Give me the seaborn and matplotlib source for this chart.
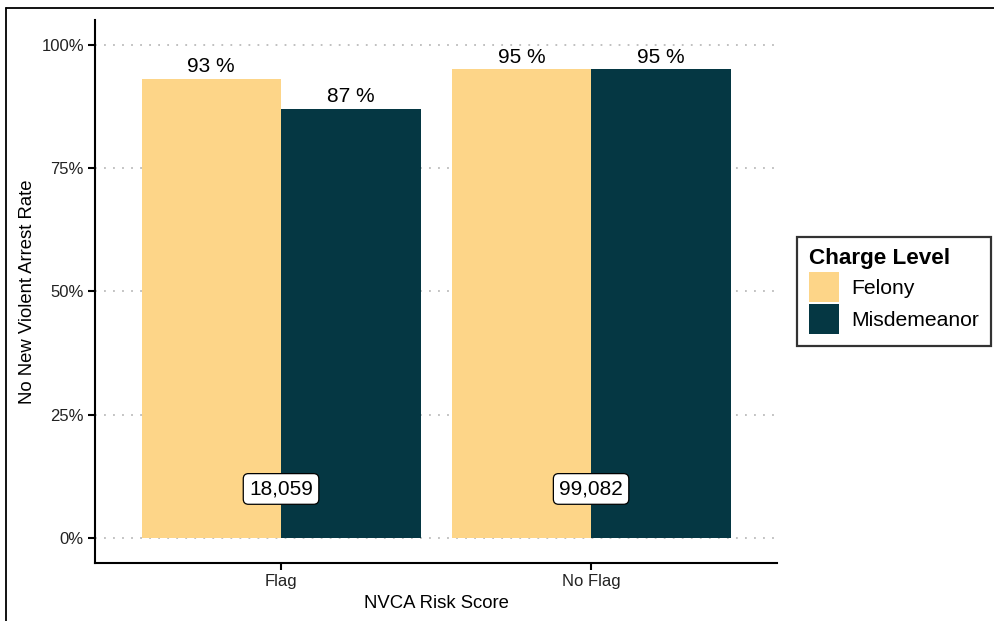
import matplotlib

matplotlib.use("Agg")
import matplotlib.pyplot as plt
import pandas as pd
import seaborn as sns
from matplotlib.lines import Line2D
from matplotlib.ticker import PercentFormatter

risk_score = ["Flag", "Flag", "No Flag", "No Flag"]
charge_level = ["Felony", "Misdemeanor", "Felony", "Misdemeanor"]
no_nva_rate = [0.93, 0.87, 0.95, 0.95]
group_names = ["Flag", "No Flag"]
group_counts = [18059, 99082]
palette = {"Felony": "#FDD588", "Misdemeanor": "#053743"}

df = pd.DataFrame({"risk": risk_score, "level": charge_level, "rate": no_nva_rate})

sns.set_style("white")
plt.rcParams["font.family"] = ["Liberation Sans", "DejaVu Sans"]

fig = plt.figure(figsize=(9.95, 6.21), dpi=100)
ax = fig.add_axes([0.0955, 0.0934, 0.6855, 0.8744])

sns.barplot(data=df, x="risk", y="rate", hue="level", order=group_names,
            hue_order=["Felony", "Misdemeanor"], palette=palette,
            width=0.9, gap=0, saturation=1, errorbar=None, linewidth=0, ax=ax)

for cont in ax.containers:
    ax.bar_label(cont, labels=[f"{round(b.get_height() * 100)} %" for b in cont],
                 padding=2, fontsize=15, color="black")

for i, n in enumerate(group_counts):
    ax.text(i, 0.10, f"{n:,}", ha="center", va="center", fontsize=15, color="black",
            bbox=dict(boxstyle="round,pad=0.28,rounding_size=0.25",
                      fc="white", ec="black", lw=0.9))

ax.set_xlim(-0.6, 1.6)
ax.set_ylim(-0.05, 1.05)
ax.set_yticks([0, 0.25, 0.5, 0.75, 1.0])
ax.yaxis.set_major_formatter(PercentFormatter(1.0, decimals=0))
ax.grid(axis="y", color="#BBBBBB", linestyle=(0, (1, 4)), linewidth=1.3)
ax.set_axisbelow(True)
for side in ["top", "right"]:
    ax.spines[side].set_visible(False)
for side in ["left", "bottom"]:
    ax.spines[side].set_linewidth(1.5)
    ax.spines[side].set_color("black")
ax.tick_params(axis="both", bottom=True, left=True, length=5, width=1.5,
               color="black", labelsize=12, labelcolor="#222222",
               direction="out", pad=3)
ax.set_xlabel("NVCA Risk Score", fontsize=13.3, labelpad=4, color="black")
ax.set_ylabel("No New Violent Arrest Rate", fontsize=13.3, labelpad=4, color="black")

handles, labels = ax.get_legend_handles_labels()
ax.legend_.remove()
leg = fig.legend(handles, labels, title="Charge Level", loc="center left",
                 bbox_to_anchor=(0.801, 0.531), borderaxespad=0, fontsize=15.2,
                 title_fontproperties={"weight": "bold", "size": 16.2},
                 frameon=True, fancybox=False, edgecolor="black",
                 handlelength=1.42, handleheight=1.81, handletextpad=0.62,
                 labelspacing=0.12, borderpad=0.55, alignment="left")
leg.get_frame().set_linewidth(1.6)
for t in leg.get_texts():
    t.set_color("black")
leg.get_title().set_color("black")

# screenshot frame on top and left
fig.add_artist(Line2D([0.006, 1.0], [0.987, 0.987], color="black", lw=1.3,
                      transform=fig.transFigure))
fig.add_artist(Line2D([0.006, 0.006], [0.0, 0.987], color="black", lw=1.3,
                      transform=fig.transFigure))

fig.savefig("out.png", dpi=100)
